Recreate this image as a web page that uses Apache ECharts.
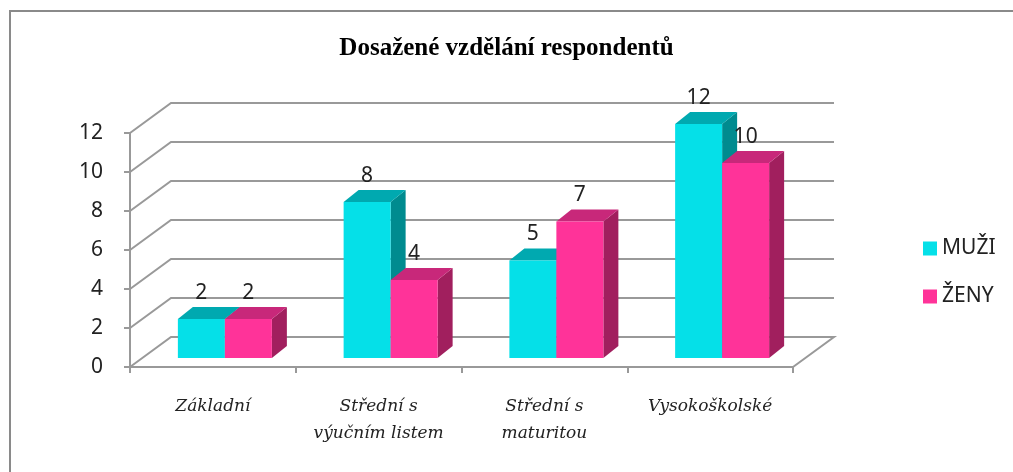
<!DOCTYPE html>
<html>
<head>
<meta charset="utf-8">
<script src="https://cdn.jsdelivr.net/npm/echarts@6/dist/echarts.min.js"></script>
<style>
  html, body { margin: 0; padding: 0; background: #fff; }
  #main { width: 1013px; height: 472px; }
</style>
</head>
<body>
<div id="main"></div>
<script>
// data
const categories = ['Základní', 'Střední s\nvýučním listem', 'Střední s\nmaturitou', 'Vysokoškolské'];
const muzi = [2, 8, 5, 12];
const zeny = [2, 4, 7, 10];
const yTicks = [0, 2, 4, 6, 8, 10, 12];

const chart = echarts.init(document.getElementById('main'));

// pseudo 3D settings
const WALL_DX = 41, WALL_DY = -30;   // back wall offset
const BAR_SHIFT_X = 12, BAR_SHIFT_Y = 9; // bar front face sits a bit inside the floor
const BAR_DX = 15, BAR_DY = -12;     // bar depth
const BAR_W = 47;

const colors = [
  { front: '#05e0e8', top: '#00a9b0', side: '#008b8f' },
  { front: '#ff3399', top: '#c8287a', side: '#a11f5e' },
];

function wallItem(params, api) {
  const cs = params.coordSys;
  const v = api.value(0);
  const y = api.coord([0, v])[1];
  const x0 = cs.x, x1 = cs.x + cs.width;
  const pts = [[x0, y], [x0 + WALL_DX, y + WALL_DY], [x1 + WALL_DX, y + WALL_DY]];
  if (v === 0) pts.push([x1, y]);
  return {
    type: 'polyline',
    shape: { points: pts },
    style: { stroke: '#999', lineWidth: 2, fill: null },
  };
}

function barRender(s) {
  return function (params, api) {
    const cat = api.value(0);
    const val = api.value(1);
    const c = api.coord([cat, val]);
    const base = api.coord([cat, 0])[1] - BAR_SHIFT_Y;
    const top = c[1] - BAR_SHIFT_Y;
    const cx = c[0] + BAR_SHIFT_X;
    const l = s === 0 ? cx - BAR_W : cx;
    const r = l + BAR_W;
    const col = colors[s];
    return {
      type: 'group',
      children: [
        { type: 'polygon', shape: { points: [[r, base], [r + BAR_DX, base + BAR_DY], [r + BAR_DX, top + BAR_DY], [r, top]] }, style: { fill: col.side } },
        { type: 'polygon', shape: { points: [[l, top], [l + BAR_DX, top + BAR_DY], [r + BAR_DX, top + BAR_DY], [r, top]] }, style: { fill: col.top } },
        { type: 'rect', shape: { x: l, y: top, width: BAR_W, height: base - top }, style: { fill: col.front } },
        {
          type: 'text',
          x: (l + r) / 2, y: top - 26,
          style: { text: String(val), fill: '#222', font: '21px "Noto Sans"', align: 'center', verticalAlign: 'middle' },
        },
      ],
    };
  };
}

const option = {
  backgroundColor: '#fff',
  animation: false,
  title: {
    text: 'Dosažené vzdělání respondentů',
    left: 'center',
    top: 31,
    textStyle: { fontFamily: 'Liberation Serif', fontWeight: 'bold', fontSize: 25, color: '#000' },
  },
  graphic: [
    { type: 'polyline', shape: { points: [[10, 472], [10, 11], [1013, 11]] }, style: { stroke: '#8a8a8a', lineWidth: 2, fill: null } },
  ],
  legend: {
    orient: 'vertical',
    left: 918,
    top: 233,
    itemWidth: 14,
    itemHeight: 14,
    itemGap: 27,
    icon: 'rect',
    textStyle: { fontFamily: 'Noto Sans', fontSize: 21, color: '#222' },
    data: [
      { name: 'MUŽI', itemStyle: { color: colors[0].front } },
      { name: 'ŽENY', itemStyle: { color: colors[1].front } },
    ],
  },
  grid: { left: 130, right: 220, top: 133, bottom: 105 },
  xAxis: {
    type: 'category',
    data: categories,
    axisLine: { lineStyle: { color: '#999', width: 2 } },
    axisTick: { show: true, interval: 0, length: 6, lineStyle: { color: '#999', width: 2 } },
    axisLabel: {
      interval: 0,
      hideOverlap: false,
      margin: 26,
      fontFamily: 'DejaVu Serif',
      fontStyle: 'italic',
      fontSize: 17,
      lineHeight: 27,
      color: '#222',
    },
    splitLine: { show: false },
  },
  yAxis: {
    type: 'value',
    min: 0, max: 12, interval: 2,
    axisLine: { show: true, lineStyle: { color: '#999', width: 2 } },
    axisTick: { show: true, length: 6, lineStyle: { color: '#999', width: 2 } },
    axisLabel: { margin: 27, fontFamily: 'Noto Sans', fontSize: 21, color: '#222' },
    splitLine: { show: false },
  },
  series: [
    { type: 'custom', name: 'wall', renderItem: wallItem, data: yTicks.map(v => [v]), encode: { y: 0 }, silent: true, z: 1 },
    { type: 'custom', name: 'MUŽI', renderItem: barRender(0), data: muzi.map((v, i) => [i, v]), encode: { x: 0, y: 1 }, z: 2 },
    { type: 'custom', name: 'ŽENY', renderItem: barRender(1), data: zeny.map((v, i) => [i, v]), encode: { x: 0, y: 1 }, z: 3 },
  ],
};
chart.setOption(option);
</script>
</body>
</html>
